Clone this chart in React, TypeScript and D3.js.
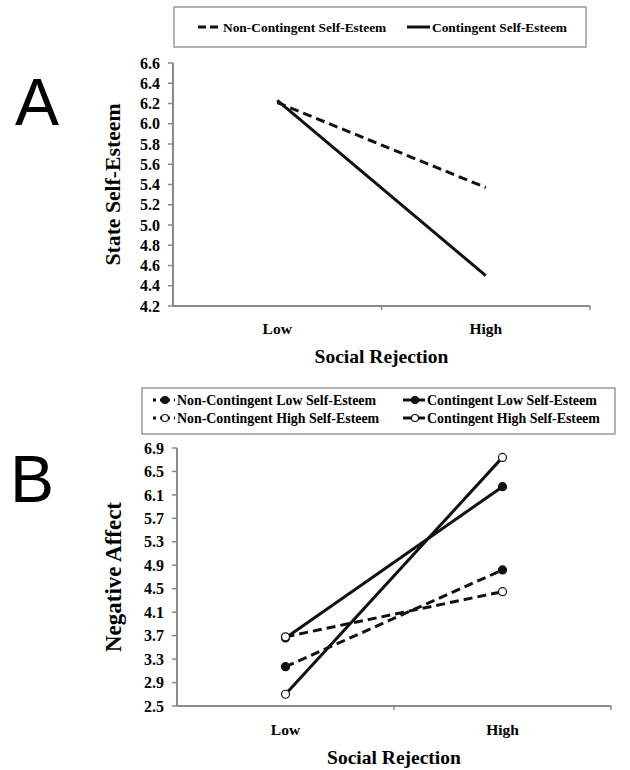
import React from "react";
import * as d3 from "d3";

const categories = ["Low", "High"];

// Panel A
const aTicks = [4.2, 4.4, 4.6, 4.8, 5.0, 5.2, 5.4, 5.6, 5.8, 6.0, 6.2, 6.4, 6.6];
const aNonContingent = [6.21, 5.37];
const aContingent = [6.23, 4.5];

// Panel B
const bTicks = [2.5, 2.9, 3.3, 3.7, 4.1, 4.5, 4.9, 5.3, 5.7, 6.1, 6.5, 6.9];
const bNonContLow = [3.17, 4.82];
const bContLow = [3.66, 6.24];
const bNonContHigh = [3.68, 4.45];
const bContHigh = [2.7, 6.74];

const SERIF = "'Liberation Serif', 'Times New Roman', serif";
const SANS = "'Liberation Sans', Arial, sans-serif";
const AXIS = "#8a8a8a";

type Series = { values: number[]; dashed: boolean; marker: "none" | "filled" | "open" };

function Panel(props: {
  x0: number; x1: number; y0: number; y1: number;
  domain: [number, number]; ticks: number[]; fmt: (v: number) => string;
  series: Series[]; yLabel: string; yLabelSize: number; catY: number; titleY: number; labelX: number;
}) {
  const { x0, x1, y0, y1, domain, ticks, fmt, series, yLabel, yLabelSize, catY, titleY, labelX } = props;
  const y = d3.scaleLinear().domain(domain).range([y1, y0]);
  const x = d3.scaleBand<string>().domain(categories).range([x0, x1]);
  const cx = (c: string) => (x(c) as number) + x.bandwidth() / 2;
  const line = d3.line<number>().x((_, i) => cx(categories[i])).y((v) => y(v));
  return (
    <g>
      {ticks.map((t) => (
        <g key={t}>
          <line x1={x0 - 5} x2={x0} y1={y(t)} y2={y(t)} stroke={AXIS} strokeWidth={1.5} />
          <text x={x0 - 13} y={y(t)} dy="0.35em" textAnchor="end" fontFamily={SERIF} fontWeight="bold" fontSize={16}>
            {fmt(t)}
          </text>
        </g>
      ))}
      <line x1={x0} x2={x0} y1={y0} y2={y1} stroke={AXIS} strokeWidth={2} />
      <line x1={x0} x2={x1} y1={y1} y2={y1} stroke={AXIS} strokeWidth={2} />
      {[x0 + x.bandwidth(), x1].map((tx, i) => (
        <line key={i} x1={tx} x2={tx} y1={y1} y2={y1 + 4} stroke={AXIS} strokeWidth={1.5} />
      ))}
      {categories.map((c) => (
        <text key={c} x={cx(c)} y={catY} dy="0.35em" textAnchor="middle" fontFamily={SERIF} fontWeight="bold" fontSize={15.5}>
          {c}
        </text>
      ))}
      <text x={(x0 + x1) / 2} y={titleY} dy="0.35em" textAnchor="middle" fontFamily={SERIF} fontWeight="bold" fontSize={19.5}>
        Social Rejection
      </text>
      <text transform={`translate(${labelX},${(y0 + y1) / 2}) rotate(-90)`} dy="0.35em" textAnchor="middle" fontFamily={SERIF} fontWeight="bold" fontSize={yLabelSize}>
        {yLabel}
      </text>
      {series.map((s, i) => (
        <path key={i} d={line(s.values) as string} fill="none" stroke="#111" strokeWidth={3} strokeDasharray={s.dashed ? "9,5" : undefined} />
      ))}
      {series.map((s, i) =>
        s.marker === "none" ? null : s.values.map((v, j) => (
          <circle key={`${i}-${j}`} cx={cx(categories[j])} cy={y(v)} r={4} fill={s.marker === "filled" ? "#111" : "#fff"} stroke="#111" strokeWidth={1.2} />
        ))
      )}
    </g>
  );
}

function LegendItem(props: { x: number; y: number; label: string; dashed: boolean; marker: "none" | "filled" | "open"; w: number; size: number }) {
  const { x, y, label, dashed, marker, w, size } = props;
  return (
    <g>
      <line x1={x} x2={x + w} y1={y} y2={y} stroke="#111" strokeWidth={3} strokeDasharray={dashed ? (marker === "none" ? "8,4" : "3,4") : undefined} />
      {marker !== "none" && (
        <circle cx={x + w / 2 + 1} cy={y} r={3.5} fill={marker === "filled" ? "#111" : "#fff"} stroke="#111" strokeWidth={1.2} />
      )}
      <text x={x + w + 2} y={y} dy="0.35em" fontFamily={SERIF} fontWeight="bold" fontSize={size}>
        {label}
      </text>
    </g>
  );
}

export default function App() {
  return (
    <svg width={630} height={770} style={{ position: "absolute", left: 0, top: 0, background: "#fff" }}>
      <rect width={630} height={770} fill="#fff" />
      {/* Panel labels */}
      <text x={15} y={125} fontFamily={SANS} fontSize={66}>A</text>
      <text x={10} y={502} fontFamily={SANS} fontSize={66}>B</text>

      {/* Legend A */}
      <rect x={174} y={7} width={412} height={40} fill="#fff" stroke="#999" strokeWidth={1.5} />
      <LegendItem x={198} y={27} label="Non-Contingent Self-Esteem" dashed={true} marker="none" w={23} size={13.4} />
      <LegendItem x={407} y={27} label="Contingent Self-Esteem" dashed={false} marker="none" w={23} size={13.4} />

      <Panel
        x0={173} x1={590} y0={63} y1={306}
        domain={[4.2, 6.6]} ticks={aTicks} fmt={(v) => v.toFixed(1)}
        series={[
          { values: aNonContingent, dashed: true, marker: "none" },
          { values: aContingent, dashed: false, marker: "none" },
        ]}
        yLabel="State Self-Esteem" yLabelSize={21.7} catY={329} titleY={356} labelX={112}
      />

      {/* Legend B */}
      <rect x={142} y={388} width={473} height={46} fill="#fff" stroke="#999" strokeWidth={1.5} />
      <LegendItem x={153} y={400} label="Non-Contingent Low Self-Esteem" dashed={true} marker="filled" w={22} size={13.9} />
      <LegendItem x={403} y={400} label="Contingent Low Self-Esteem" dashed={false} marker="filled" w={22} size={13.9} />
      <LegendItem x={153} y={418} label="Non-Contingent High Self-Esteem" dashed={true} marker="open" w={22} size={13.9} />
      <LegendItem x={403} y={418} label="Contingent High Self-Esteem" dashed={false} marker="open" w={22} size={13.9} />

      <Panel
        x0={177} x1={611} y0={448} y1={706}
        domain={[2.5, 6.9]} ticks={bTicks} fmt={(v) => v.toFixed(1)}
        series={[
          { values: bContLow, dashed: false, marker: "filled" },
          { values: bNonContLow, dashed: true, marker: "filled" },
          { values: bContHigh, dashed: false, marker: "open" },
          { values: bNonContHigh, dashed: true, marker: "open" },
        ]}
        yLabel="Negative Affect" yLabelSize={23} catY={730} titleY={757} labelX={113}
      />
    </svg>
  );
}
